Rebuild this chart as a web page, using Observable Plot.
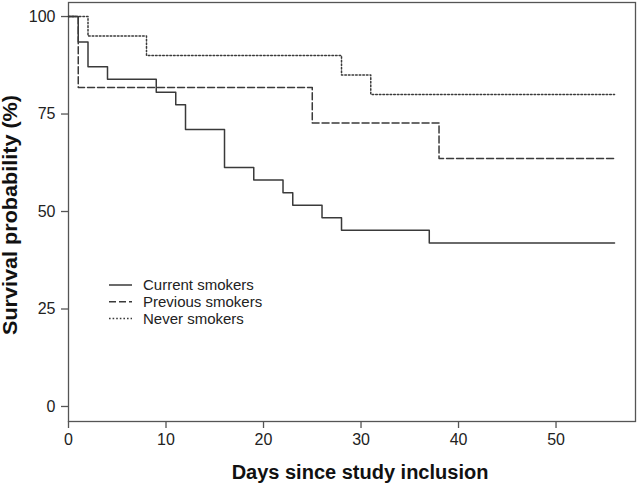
<!DOCTYPE html>
<html>
<head>
<meta charset="utf-8">
<script src="https://cdn.jsdelivr.net/npm/d3@7"></script>
<script src="https://cdn.jsdelivr.net/npm/@observablehq/plot@0.6"></script>
<style>
  html, body { margin: 0; padding: 0; background: #fff; }
</style>
</head>
<body>
<div id="chart"></div>
<script>
const groups = ["Current smokers", "Previous smokers", "Never smokers"];
const currentDays = [0, 1, 2, 4, 9, 11, 12, 16, 19, 22, 23, 26, 28, 37, 56];
const currentSurv = [100, 93.5, 87.1, 83.9, 80.6, 77.4, 71.0, 61.3, 58.1, 54.8, 51.6, 48.4, 45.2, 41.9, 41.9];
const previousDays = [0, 1, 25, 38, 56];
const previousSurv = [100, 81.8, 72.7, 63.6, 63.6];
const neverDays = [0, 2, 8, 28, 31, 56];
const neverSurv = [100, 95, 90, 85, 80, 80];
const xTicks = [0, 10, 20, 30, 40, 50];
const yTicks = [0, 25, 50, 75, 100];
const xTitle = "Days since study inclusion";
const yTitle = "Survival probability (%)";

const dashes = {"Current smokers": null, "Previous smokers": "7,3", "Never smokers": "1.6,2"};
const lineColor = "#3a3a3a";

function series(name, days, surv) {
  return days.map((d, i) => ({group: name, day: d, surv: surv[i]}));
}
const rows = {
  "Current smokers": series(groups[0], currentDays, currentSurv),
  "Previous smokers": series(groups[1], previousDays, previousSurv),
  "Never smokers": series(groups[2], neverDays, neverSurv)
};

const font = "'Liberation Sans', Arial, sans-serif";

const chart = Plot.plot({
  width: 638,
  height: 485,
  marginTop: 2,
  marginLeft: 68,
  marginRight: 3,
  marginBottom: 64,
  style: {fontFamily: font, fontSize: "16px", color: "#222", background: "#fff"},
  x: {domain: [0, 58.15]},
  y: {domain: [-3.85, 103.6]},
  marks: [
    Plot.frame({stroke: "#555", strokeWidth: 1.3}),
    Plot.axisX({ticks: xTicks, tickSize: 7, tickPadding: 5, fontSize: 16, label: null, stroke: "#555", strokeWidth: 1.3, fill: "#222"}),
    Plot.axisY({ticks: yTicks, tickSize: 7, tickPadding: 6, fontSize: 16, label: null, stroke: "#555", strokeWidth: 1.3, fill: "#222"}),
    ...groups.map(g => Plot.line(rows[g], {
      x: "day", y: "surv", curve: "step-after",
      stroke: lineColor, strokeWidth: 1.5,
      strokeDasharray: dashes[g]
    })),
    Plot.text([xTitle], {frameAnchor: "bottom", dx: 8, dy: 51, fontSize: 20, fontWeight: "bold", fill: "#111", lineAnchor: "middle", textAnchor: "middle"}),
    Plot.text([yTitle], {frameAnchor: "left", dx: -58, dy: 3, rotate: -90, fontSize: 19.5, fontWeight: "bold", fill: "#111", lineAnchor: "middle", textAnchor: "middle", className: "ytitle"})
  ]
});

// stretch the y title to the length it has in the reference
d3.select(chart).selectAll("text")
  .filter(function() { return this.textContent === yTitle; })
  .attr("textLength", 240).attr("lengthAdjust", "spacingAndGlyphs");

// legend inside the plot area
const svg = d3.select(chart);
const legend = svg.append("g").attr("font-family", font).attr("font-size", 15).attr("fill", "#222").attr("text-anchor", "start");
groups.forEach((g, i) => {
  const y = 285 + i * 16.7;
  legend.append("line")
    .attr("x1", 109).attr("x2", 132).attr("y1", y).attr("y2", y)
    .attr("stroke", lineColor).attr("stroke-width", 1.5)
    .attr("stroke-dasharray", dashes[g]);
  legend.append("text")
    .attr("x", 143).attr("y", y).attr("dy", "0.35em").attr("text-anchor", "start").text(g);
});

document.getElementById("chart").appendChild(chart);
</script>
</body>
</html>
